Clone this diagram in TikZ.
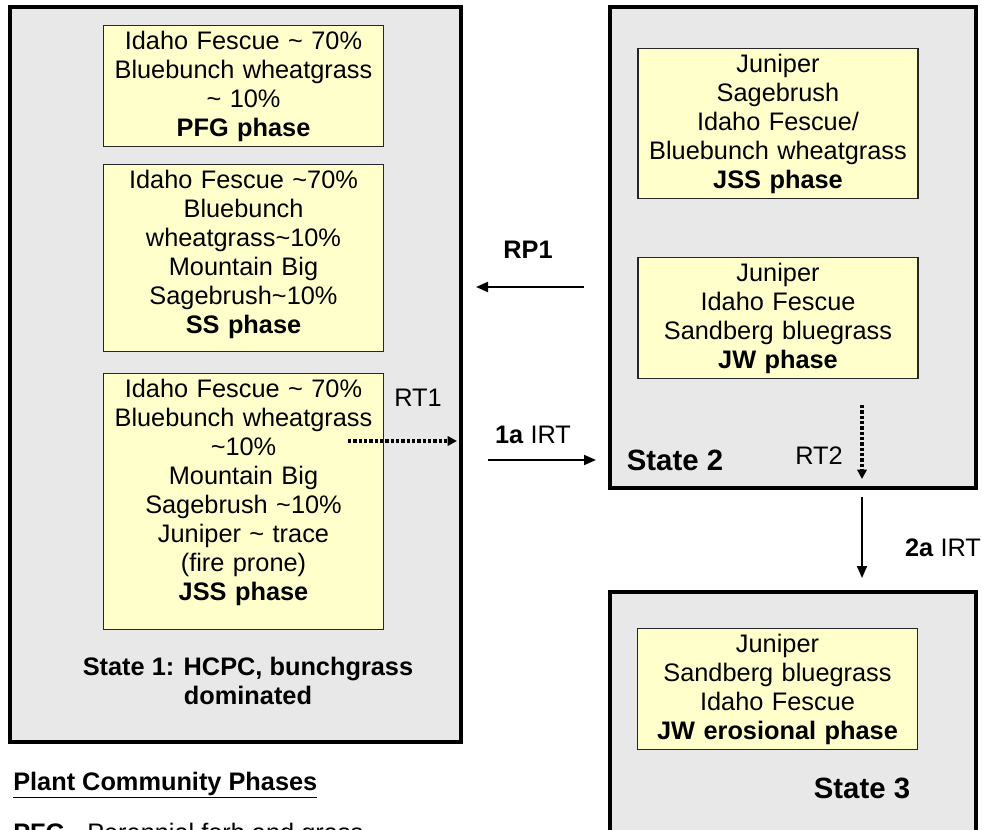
\documentclass[tikz,border=0pt]{standalone}
\usepackage{fontspec}
\setmainfont{Liberation Sans}
\usetikzlibrary{arrows.meta,fit}
\definecolor{statefill}{HTML}{E8E8E8}
\definecolor{phasefill}{HTML}{FFFFCC}
\newcommand{\bodyfont}{\fontsize{19}{21.75}\selectfont}
\newcommand{\statefont}{\fontsize{22}{25}\selectfont\bfseries}
\newcommand{\tld}{\textasciitilde}
\tikzset{
  statebox/.style={draw=black, fill=statefill, line width=3pt, inner sep=0pt},
  phasebox/.style={draw=black!85, fill=phasefill, line width=0.9pt, anchor=north,
    text width=210pt, align=center, inner xsep=0pt, inner ysep=4pt, font=\bodyfont},
  lbl/.style={font=\bodyfont, inner sep=0pt},
  trans/.style={-{Triangle[length=9pt,width=7.5pt]}, line width=1.5pt},
  risk/.style={-{Triangle[length=7pt,width=7pt]}, line width=3pt, dash pattern=on 2.6pt off 1.4pt}
}
\begin{document}
\begin{tikzpicture}[x=0.75pt,y=-0.75pt]
  \useasboundingbox (0,0) rectangle (982,830);

  % states
  \node[statebox, fit={(10,7) (461,742)}] (s1) {};
  \node[statebox, fit={(610,7) (976,488)}] (s2) {};
  \node[statebox, fit={(610,592) (976,860)}] (s3) {};

  % phases of state 1
  \node[phasebox] (p1) at (243.5,25) {Idaho Fescue \tld{} 70\%\\Bluebunch wheatgrass\\\tld{} 10\%\\\textbf{PFG phase}};
  \node[phasebox] (p2) at (243.5,164) {Idaho Fescue \tld70\%\\Bluebunch\\wheatgrass\tld10\%\\Mountain Big\\Sagebrush\tld10\%\\\textbf{SS phase}\\[-12pt]\mbox{}};
  \node[phasebox] (p3) at (243.5,373) {Idaho Fescue \tld{} 70\%\\Bluebunch wheatgrass\\\tld10\%\\Mountain Big\\Sagebrush \tld10\%\\Juniper \tld{} trace\\(fire prone)\\\textbf{JSS phase}\\[-4pt]\mbox{}};

  % phases of state 2
  \node[phasebox] (q1) at (778,48) {Juniper\\Sagebrush\\Idaho Fescue/\\Bluebunch wheatgrass\\\textbf{JSS phase}};
  \node[phasebox] (q2) at (778,257) {Juniper\\Idaho Fescue\\Sandberg bluegrass\\\textbf{JW phase}};

  % phase of state 3
  \node[phasebox] (r1) at (777.5,628) {Juniper\\Sandberg bluegrass\\Idaho Fescue\\\textbf{JW erosional phase}};

  % state labels
  \node[lbl, align=center, font=\bodyfont\bfseries] (s1lbl) at (248,681) {State 1: HCPC, bunchgrass\\dominated};
  \node[lbl, font=\statefont] (s2lbl) at (675,460) {State 2};
  \node[lbl, font=\statefont] (s3lbl) at (862,788) {State 3};

  % transition labels
  \node[lbl, font=\bodyfont\bfseries] (rp1) at (528,250) {RP1};
  \node[lbl] (t1a) at (533,435) {\textbf{1a} IRT};
  \node[lbl] (rt1) at (418,398) {RT1};
  \node[lbl] (rt2) at (819,456) {RT2};
  \node[lbl] (t2a) at (943,548) {\textbf{2a} IRT};

  % arrow ends
  \coordinate (rp1a) at (584,287);
  \coordinate (rp1b) at (476,287);
  \coordinate (t1aa) at (488,460);
  \coordinate (t1ab) at (596,460);
  \coordinate (rt1a) at (348,441);
  \coordinate (rt1b) at (457,441);
  \coordinate (rt2a) at (862,405);
  \coordinate (rt2b) at (862,479);
  \coordinate (t2aa) at (862,497);
  \coordinate (t2ab) at (862,578);

  \draw[trans] (rp1a) -- (rp1b);
  \draw[trans] (t1aa) -- (t1ab);
  \draw[trans] (t2aa) -- (t2ab);
  \draw[risk] (rt1a) -- (rt1b);
  \draw[risk] (rt2a) -- (rt2b);

  % legend
  \node[lbl, anchor=west, font=\bodyfont\bfseries] (leg) at (13,785) {\underline{Plant Community Phases}};
  \node[lbl, anchor=base west, font=\bodyfont\bfseries] (pfg) at (13,841) {PFG};
  \node[lbl, anchor=base west] (pfgtxt) at (87,841) {Perennial forb and grass};
\end{tikzpicture}
\end{document}
